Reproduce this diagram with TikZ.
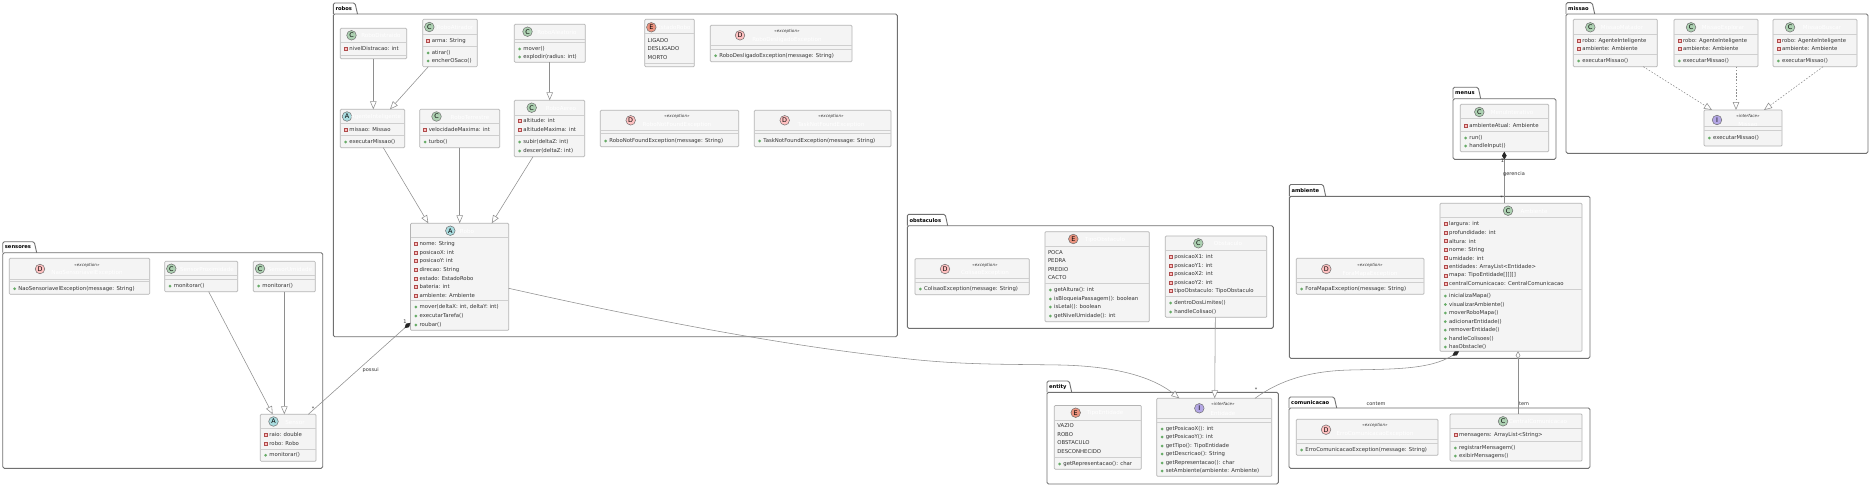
\documentclass[tikz,border=0pt]{standalone}
\usepackage{fontspec}
\setmainfont{DejaVu Sans}
\usetikzlibrary{arrows.meta,calc}
\definecolor{cbg}{HTML}{F4F4F4}
\definecolor{cbd}{HTML}{B4B4B4}
\definecolor{csep}{HTML}{CFCFCF}
\definecolor{ctx}{HTML}{333333}
\definecolor{cpk}{HTML}{707070}
\definecolor{cln}{HTML}{8E8E8E}
\definecolor{icC}{HTML}{ADD1B2}
\definecolor{icA}{HTML}{A9DCDF}
\definecolor{icE}{HTML}{EB937F}
\definecolor{icD}{HTML}{FFC0C0}
\definecolor{icI}{HTML}{B4A7E5}
\tikzset{
  x=1pt,y=-1pt,
  classbox/.style={draw=cbd,fill=cbg,line width=0.7pt,rounded corners=1pt,inner sep=0pt,outer sep=0pt},
  rowtext/.style={text=ctx,inner sep=0pt,outer sep=0pt,anchor=west,font=\fontsize{5.35}{6}\selectfont},
  titletext/.style={text=white,inner sep=0pt,anchor=center,font=\fontsize{5.6}{6}\selectfont},
  stereotext/.style={text=ctx,inner sep=0pt,anchor=center,font=\fontsize{4.1}{5}\selectfont\itshape},
  pkgline/.style={draw=cpk,line width=0.9pt,rounded corners=1.5pt},
  pkgtext/.style={text=black,inner sep=0pt,anchor=west,font=\fontsize{5.2}{6}\selectfont\bfseries},
  iconnode/.style={circle,draw=cpk,line width=0.5pt,minimum size=9.6pt,inner sep=0pt,text=black,font=\fontsize{6.4}{7}\selectfont},
  gen/.style={draw=cln,line width=0.55pt,-{Triangle[length=8pt,width=6.5pt,fill=white,color=cln]}},
  real/.style={gen,dash pattern=on 1.6pt off 1.6pt},
  comp/.style={draw=cln,line width=0.55pt,{Diamond[length=8pt,width=4.6pt,fill=black!85,color=black!85]}-},
  aggr/.style={draw=cln,line width=0.55pt,{Diamond[length=8pt,width=4.6pt,fill=white,color=cln]}-},
  edgetext/.style={text=ctx,inner sep=0pt,anchor=center,font=\fontsize{5}{6}\selectfont},
}
\newcount\tn
\newcommand\nextn{\global\advance\tn by 1 }
% name x1 x2 y1 y2 hdr sep
\newcommand\cls[7]{%
  \pgfmathsetmacro\cxx{(#2+#3)/2}\pgfmathsetmacro\cyy{(#4+#5)/2}%
  \pgfmathsetmacro\www{#3-#2}\pgfmathsetmacro\hhh{#5-#4}%
  \node[classbox,minimum width=\www pt,minimum height=\hhh pt] (#1) at (\cxx,\cyy) {};%
  \draw[csep,line width=0.9pt] (#2+0.4,#6) -- (#3-0.4,#6);%
  \draw[csep,line width=0.9pt] (#2+0.4,#7) -- (#3-0.4,#7);%
}
\newcommand\icn[3]{\nextn\node[iconnode,fill=ic#3] (i\the\tn) at (#1,#2) {#3};}
\newcommand\ttl[3]{\nextn\node[titletext] (n\the\tn) at (#1,#2) {#3};}
\newcommand\ster[3]{\nextn\node[stereotext] (n\the\tn) at (#1,#2) {«#3»};}
\newcommand\fld[3]{\nextn
  \filldraw[draw=red!55!black!70,fill=red!25,line width=0.45pt] (#1+3.8,#2-1.5) rectangle (#1+6.8,#2+1.5);
  \node[rowtext] (n\the\tn) at (#1+9.1,#2) {#3};}
\newcommand\mth[3]{\nextn
  \fill[green!45!black!60!white] (#1+5.3,#2) circle (1.5);
  \node[rowtext] (n\the\tn) at (#1+9.1,#2) {#3};}
\newcommand\enm[3]{\nextn\node[rowtext] (n\the\tn) at (#1+3,#2) {#3};}
% name x1 ytab xtabr ybody x2 y2
\newcommand\pkg[7]{%
  \draw[pkgline] (#2,#5) rectangle (#6,#7);
  \draw[pkgline] (#2,#5) -- (#2,#3) -- (#4-2.5,#3) -- (#4,#5);
  \nextn\node[pkgtext] (n\the\tn) at (#2+2,#3+5.8) {#1};}
\begin{document}
\begin{tikzpicture}
\useasboundingbox (0,0) rectangle (1872,487);
\fill[white] (0,0) rectangle (1872,487);

% packages
\pkg{robos}{333.3}{3}{357.5}{14}{897.3}{336.7}
\pkg{sensores}{2.7}{241.7}{36.7}{252.7}{322.7}{468.3}
\pkg{obstaculos}{907.3}{214.3}{947.7}{225.7}{1273.3}{328.3}
\pkg{entity}{1047}{381}{1071.7}{392.3}{1278.3}{484}
\pkg{ambiente}{1289.3}{184.5}{1325.7}{196.3}{1590}{358.3}
\pkg{comunicacao}{1289}{397}{1336.7}{408}{1590}{468.3}
\pkg{menus}{1453}{87.3}{1480.7}{98.7}{1556}{159.3}
\pkg{missao}{1566}{2.7}{1594.7}{14}{1868}{153.3}

% robos
\cls{rdist}{340.3}{406.7}{28.3}{58.7}{42}{55.7}
\icn{351.5}{35.3}{C}\ttl{381}{35.6}{RoboDistraido}
\fld{340.3}{48.7}{nivelDistracao: int}

\cls{ratir}{422.7}{477.3}{19.3}{66.7}{34.3}{46.7}
\icn{429.3}{27}{C}\ttl{455}{27.5}{RoboAtirador}
\fld{422.7}{41}{arma: String}
\mth{422.7}{53}{atirar()}
\mth{422.7}{61}{encherOSaco()}

\cls{ralea}{514.3}{585.3}{24.3}{62.3}{39}{42}
\icn{527.5}{31.7}{C}\ttl{557}{32}{RoboAleatorio}
\mth{514.3}{49}{mover()}
\mth{514.3}{57}{explodir(radius: int)}

\cls{agente}{340.3}{404.7}{109.3}{147.7}{123.3}{135.7}
\icn{347}{116.5}{A}\ttl{376}{117}{AgenteInteligente}
\fld{340.3}{130}{missao: Missao}
\mth{340.3}{142}{executarMissao()}

\cls{rterr}{419.7}{499.7}{109.3}{147.7}{123.3}{135.7}
\icn{436.5}{116.5}{C}\ttl{470}{117}{RoboTerrestre}
\fld{419.7}{130}{velocidadeMaxima: int}
\mth{419.7}{142}{turbo()}

\cls{raereo}{514.3}{584.7}{100.3}{156.7}{115.3}{135.7}
\icn{531.7}{107.7}{C}\ttl{561}{108}{RoboAereo}
\fld{514.3}{121}{altitude: int}
\fld{514.3}{130}{altitudeMaxima: int}
\mth{514.3}{142}{subir(deltaZ: int)}
\mth{514.3}{151}{descer(deltaZ: int)}

\cls{estado}{644.7}{694.3}{19.3}{66.7}{33.7}{63.3}
\icn{651.3}{27.3}{E}\ttl{674}{27.8}{EstadoRobo}
\enm{644.7}{40.7}{LIGADO}
\enm{644.7}{48.7}{DESLIGADO}
\enm{644.7}{57.7}{MORTO}

\cls{rdesl}{710.3}{852}{25.3}{61.7}{45.7}{49}
\icn{740}{35.3}{D}\ster{787}{31.5}{exception}\ttl{787}{40}{RoboDesligadoException}
\mth{710.3}{55.7}{RoboDesligadoException(message: String)}

\cls{rnotf}{600.3}{738.7}{110.3}{146.7}{130.3}{133.7}
\icn{630.7}{120.3}{D}\ster{677}{116}{exception}\ttl{677}{124.7}{RoboNotFoundException}
\mth{600.3}{141}{RoboNotFoundException(message: String)}

\cls{tnotf}{754.3}{891}{110.3}{146.7}{130.3}{133.7}
\icn{784.7}{120.3}{D}\ster{831}{116}{exception}\ttl{831}{124.7}{TaskNotFoundException}
\mth{754.3}{141}{TaskNotFoundException(message: String)}

\cls{robo}{410.5}{508.7}{223.3}{330.3}{237.7}{300.7}
\icn{450.3}{230.7}{A}\ttl{467}{231.2}{Robo}
\fld{410.5}{244}{nome: String}
\fld{410.5}{253}{posicaoX: int}
\fld{410.5}{261}{posicaoY: int}
\fld{410.5}{270}{direcao: String}
\fld{410.5}{278.3}{estado: EstadoRobo}
\fld{410.5}{287}{bateria: int}
\fld{410.5}{295.3}{ambiente: Ambiente}
\mth{410.5}{307}{mover(deltaX: int, deltaY: int)}
\mth{410.5}{316}{executarTarefa()}
\mth{410.5}{325}{roubar()}

% sensores
\cls{nsens}{9.3}{149.7}{258.3}{294.3}{279.3}{281.7}
\icn{40}{269}{D}\ster{87}{265.3}{exception}\ttl{87}{273}{NaoSensoriavelException}
\mth{9.3}{288.7}{NaoSensoriavelException(message: String)}

\cls{sprox}{164.7}{237.7}{261.3}{291.7}{275.3}{279.3}
\icn{171.3}{268.7}{C}\ttl{207}{269}{SensorProximidade}
\mth{164.7}{286}{monitorar()}

\cls{sumid}{253.3}{315.3}{261.3}{291.7}{275.3}{279.3}
\icn{260}{268.7}{C}\ttl{290}{269}{SensorUmidade}
\mth{253.3}{286}{monitorar()}

\cls{sensor}{260.3}{316}{414.3}{461.3}{428.3}{449.3}
\icn{273.5}{421.5}{A}\ttl{295}{422}{Sensor}
\fld{260.3}{435}{raio: double}
\fld{260.3}{443.3}{robo: Robo}
\mth{260.3}{455.3}{monitorar()}

% obstaculos
\cls{colis}{915}{1029.3}{258.7}{294.7}{278.3}{282.3}
\icn{945}{269}{D}\ster{985}{265.3}{exception}\ttl{985}{273}{ColisaoException}
\mth{915}{289}{ColisaoException(message: String)}

\cls{tobst}{1045}{1149.3}{231.7}{321.7}{246.7}{283.7}
\icn{1073.3}{239}{E}\ttl{1105}{239.5}{TipoObstaculo}
\enm{1045}{253}{POCA}
\enm{1045}{261}{PEDRA}
\enm{1045}{269.7}{PREDIO}
\enm{1045}{278}{CACTO}
\mth{1045}{290}{getAltura(): int}
\mth{1045}{299}{isBloqueiaPassagem(): boolean}
\mth{1045}{307}{isLetal(): boolean}
\mth{1045}{316}{getNivelUmidade(): int}

\cls{obst}{1165.3}{1266.7}{236}{317.3}{250.3}{296.7}
\icn{1198.3}{243.3}{C}\ttl{1228}{243.8}{Obstaculo}
\fld{1165.3}{257}{posicaoX1: int}
\fld{1165.3}{266}{posicaoY1: int}
\fld{1165.3}{274}{posicaoX2: int}
\fld{1165.3}{283}{posicaoY2: int}
\fld{1165.3}{291}{tipoObstaculo: TipoObstaculo}
\mth{1165.3}{303}{dentroDosLimites()}
\mth{1165.3}{312}{handleColisao()}

% entity
\cls{tent}{1054.3}{1141.3}{405.5}{469.3}{420}{457.3}
\icn{1075.7}{412.7}{E}\ttl{1105}{413.2}{TipoEntidade}
\enm{1054.3}{426}{VAZIO}
\enm{1054.3}{434.7}{ROBO}
\enm{1054.3}{443}{OBSTACULO}
\enm{1054.3}{452}{DESCONHECIDO}
\mth{1054.3}{464}{getRepresentacao(): char}

\cls{entid}{1156.7}{1271.7}{398.3}{476.3}{418.3}{422.3}
\icn{1199.3}{408.3}{I}\ster{1223}{404.3}{interface}\ttl{1223}{413}{Entidade}
\mth{1156.7}{429}{getPosicaoX(): int}
\mth{1156.7}{437}{getPosicaoY(): int}
\mth{1156.7}{446}{getTipo(): TipoEntidade}
\mth{1156.7}{454}{getDescricao(): String}
\mth{1156.7}{463}{getRepresentacao(): char}
\mth{1156.7}{471}{setAmbiente(ambiente: Ambiente)}

% ambiente
\cls{fora}{1296.3}{1424}{258.3}{294.3}{278.3}{282.3}
\icn{1326.3}{269}{D}\ster{1370}{265.3}{exception}\ttl{1370}{273.5}{ForaMapaException}
\mth{1296.3}{289}{ForaMapaException(message: String)}

\cls{amb}{1440}{1582}{203.3}{351.3}{217.7}{289.5}
\icn{1508}{210.7}{C}\ttl{1534}{211.2}{Ambiente}
\fld{1440}{224}{largura: int}
\fld{1440}{232.6}{profundidade: int}
\fld{1440}{241.1}{altura: int}
\fld{1440}{249.7}{nome: String}
\fld{1440}{258.2}{umidade: int}
\fld{1440}{266.8}{entidades: ArrayList<Entidade>}
\fld{1440}{275.3}{mapa: TipoEntidade[][][]}
\fld{1440}{283.9}{centralComunicacao: CentralComunicacao}
\mth{1440}{296}{inicializaMapa()}
\mth{1440}{304.5}{visualizarAmbiente()}
\mth{1440}{313}{moverRoboMapa()}
\mth{1440}{321.6}{adicionarEntidade()}
\mth{1440}{330.1}{removerEntidade()}
\mth{1440}{338.7}{handleColisoes()}
\mth{1440}{347}{hasObstacle()}

% comunicacao
\cls{erro}{1296.3}{1438}{419.3}{455.3}{439.3}{443.3}
\icn{1326}{429.7}{D}\ster{1375}{425.7}{exception}\ttl{1375}{434}{ErroComunicacaoException}
\mth{1296.3}{450}{ErroComunicacaoException(message: String)}

\cls{central}{1450}{1582}{414}{461}{428.4}{441}
\icn{1503}{421.3}{C}\ttl{1538}{421.8}{CentralComunicacao}
\fld{1450}{435}{mensagens: ArrayList<String>}
\mth{1450}{448}{registrarMensagem()}
\mth{1450}{456}{exibirMensagens()}

% menus
\cls{menu}{1460.3}{1548.7}{104.3}{151.7}{118.7}{131.3}
\icn{1479.3}{112}{C}\ttl{1512}{112.5}{MenuInterativo}
\fld{1460.3}{126}{ambienteAtual: Ambiente}
\mth{1460.3}{138}{run()}
\mth{1460.3}{146}{handleInput()}

% missao
\cls{mm}{1573.3}{1657.3}{19.3}{66.7}{34}{54.3}
\icn{1590.3}{27.3}{C}\ttl{1622}{27.8}{MissaoMatador}
\fld{1573.3}{40.7}{robo: AgenteInteligente}
\fld{1573.3}{49}{ambiente: Ambiente}
\mth{1573.3}{61}{executarMissao()}

\cls{me}{1674}{1758}{19.3}{66.7}{34}{54.3}
\icn{1691}{27.3}{C}\ttl{1723}{27.8}{MissaoExplorar}
\fld{1674}{40.7}{robo: AgenteInteligente}
\fld{1674}{49}{ambiente: Ambiente}
\mth{1674}{61}{executarMissao()}

\cls{mb}{1773}{1857}{19.3}{66.7}{34}{54.3}
\icn{1790}{27.3}{C}\ttl{1822}{27.8}{MissaoBuscar}
\fld{1773}{40.7}{robo: AgenteInteligente}
\fld{1773}{49}{ambiente: Ambiente}
\mth{1773}{61}{executarMissao()}

\cls{missao}{1704}{1782}{110}{146}{126}{130}
\icn{1717}{120}{I}\ster{1748}{116}{interface}\ttl{1748}{124.5}{Missao}
\mth{1704}{138}{executarMissao()}

% connectors
\draw[gen] ([xshift=33pt]rdist.south west) -- ([xshift=33pt]agente.north west);
\draw[gen] ([xshift=5.6pt]ratir.south west) -- ([xshift=49.7pt]agente.north west);
\draw[gen] ([xshift=35.4pt]ralea.south west) -- ([xshift=35.4pt]raereo.north west);
\draw[gen] ([xshift=43pt]agente.south west) -- ([xshift=17.8pt]robo.north west);
\draw[gen] ([xshift=40pt]rterr.south west) -- ([xshift=49.2pt]robo.north west);
\draw[gen] ([xshift=18.7pt]raereo.south west) -- ([xshift=81.2pt]robo.north west);
\draw[gen] ([xshift=44pt]sprox.south west) -- ([xshift=12.4pt]sensor.north west);
\draw[gen] ([xshift=31pt]sumid.south west) -- ([xshift=24pt]sensor.north west);
\draw[gen] ([xshift=50pt]obst.south west) -- ([xshift=58pt]entid.north west);
\draw[gen] ([yshift=-11.5pt]robo.east) .. controls (650,320) and (780,345) .. (900,358) .. controls (960,365) and (1000,364) .. (1060,365) .. controls (1110,366) and (1150,375) .. ([xshift=22.6pt]entid.north west);
\draw[comp] ([yshift=-46pt]robo.west) -- ([xshift=48pt]sensor.north west);
\draw[comp] ([xshift=44pt]menu.south west) -- ([xshift=64.3pt]amb.north west);
\draw[comp] ([xshift=19pt]amb.south west) .. controls (1430,370) and (1390,369) .. (1350,370) .. controls (1310,371) and (1280,380) .. ([xshift=98.3pt]entid.north west);
\draw[aggr] ([xshift=78pt]amb.south west) -- ([xshift=68pt]central.north west);
\draw[real] ([xshift=70pt]mm.south west) -- ([xshift=8pt]missao.north west);
\draw[real] ([xshift=62pt]me.south west) -- ([xshift=32pt]missao.north west);
\draw[real] ([xshift=50pt]mb.south west) -- ([xshift=60pt]missao.north west);

% edge labels
\node[edgetext] (lb1) at (370.7,370) {possui};
\node[edgetext] (lb2) at (405,322) {1};
\node[edgetext] (lb3) at (313,409) {*};
\node[edgetext] (lb4) at (1514,174.5) {gerencia};
\node[edgetext] (lb5) at (1502.5,161) {1};
\node[edgetext] (lb6) at (1501.5,198) {*};
\node[edgetext] (lb7) at (1256,390) {*};
\node[edgetext] (lb8) at (1376,404) {contem};
\node[edgetext] (lb9) at (1524,404) {tem};
\end{tikzpicture}
\end{document}
